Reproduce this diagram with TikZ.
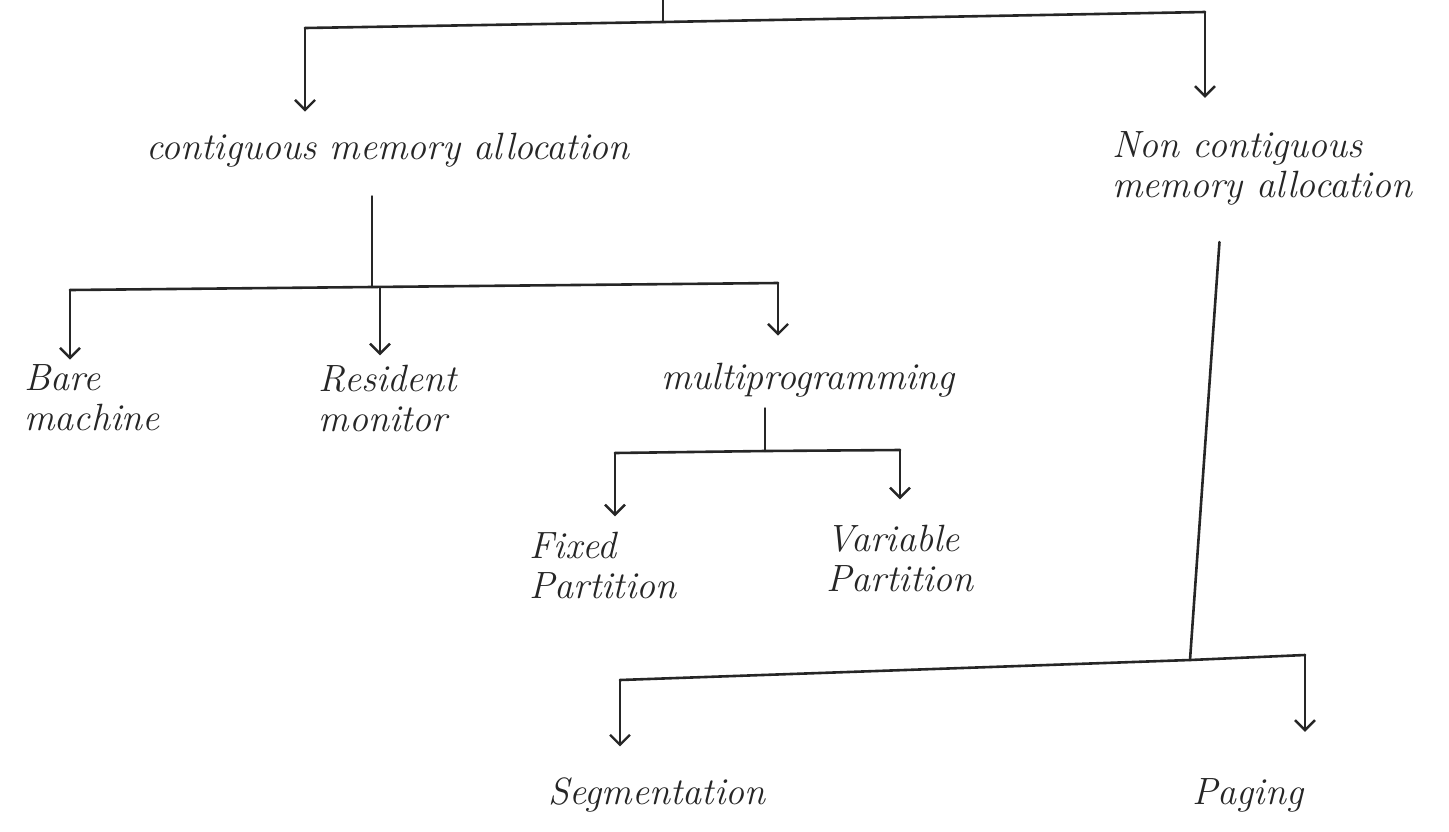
\documentclass[tikz,border=0pt]{standalone}
\usepackage{fontspec}
\usetikzlibrary{arrows.meta}
\begin{document}
\begin{tikzpicture}[x=1pt,y=-1pt,
  line width=2.6pt, line cap=round, line join=round,
  link/.style={draw=black!85},
  down/.style={link,-{Straight Barb[length=10pt,width=20pt,line width=2.4pt]}},
  lbl/.style={font=\fontsize{38}{40}\selectfont\itshape, inner sep=0pt, align=left, text=black!85}]
\useasboundingbox (0,0) rectangle (1449,831);

% labels
\node[lbl] (cma)   at (388,150) {contiguous memory allocation};
\node[lbl] (ncma)  at (1262,168) {Non contiguous\\memory allocation};
\node[lbl] (bare)  at (92,398) {Bare\\machine};
\node[lbl] (res)   at (388,398) {Resident\\monitor};
\node[lbl] (multi) at (808,380) {multiprogramming};
\node[lbl] (fixed) at (603,565) {Fixed\\Partition};
\node[lbl] (var)   at (900,558) {Variable\\Partition};
\node[lbl] (seg)   at (657,795) {Segmentation};
\node[lbl] (pag)   at (1248,795) {Paging};

% junction points of the elbow connectors
\coordinate (rootTop) at (663,0);
\coordinate (rootJ)   at (663,22);
\coordinate (barL) at (305,28);
\coordinate (barR) at (1205,12);
\coordinate (cJ)   at (372,287);
\coordinate (cL)   at (70,290);
\coordinate (cM)   at (380,288);
\coordinate (cR)   at (778,283);
\coordinate (mJ)   at (765,451);
\coordinate (mL)   at (615,453);
\coordinate (mR)   at (900,450);
\coordinate (nTop) at (1222,240);
\coordinate (nJ)   at (1190,660);
\coordinate (nL)   at (620,680);
\coordinate (nR)   at (1305,655);

% top level
\draw[link] (rootTop) -- (rootJ);
\draw[link] (barL) -- (rootJ) -- (barR);
\draw[down, shorten >=20pt] (barL) -- (barL |- cma.north);
\draw[down, shorten >=32pt] (barR) -- (barR |- ncma.north);

% contiguous branch
\draw[link, shorten <=28pt] (cJ |- cma.south) -- (cJ);
\draw[link] (cL) -- (cJ) -- (cR);
\draw[down, shorten >=4pt] (cL) -- (cL |- bare.north);
\draw[down, shorten >=8pt] (cM) -- (cM |- res.north);
\draw[down, shorten >=26pt] (cR) -- (cR |- multi.north);

% multiprogramming branch
\draw[link, shorten <=10pt] (mJ |- multi.south) -- (mJ);
\draw[link] (mL) -- (mJ) -- (mR);
\draw[down, shorten >=14pt] (mL) -- (mL |- fixed.north);
\draw[down, shorten >=24pt] (mR) -- (mR |- var.north);

% non contiguous branch
\draw[link, shorten <=36pt] (nTop |- ncma.south) -- (nJ);
\draw[link] (nL) -- (nJ) -- (nR);
\draw[down, shorten >=30pt] (nL) -- (nL |- seg.north);
\draw[down, shorten >=45pt] (nR) -- (nR |- pag.north);
\end{tikzpicture}
\end{document}
